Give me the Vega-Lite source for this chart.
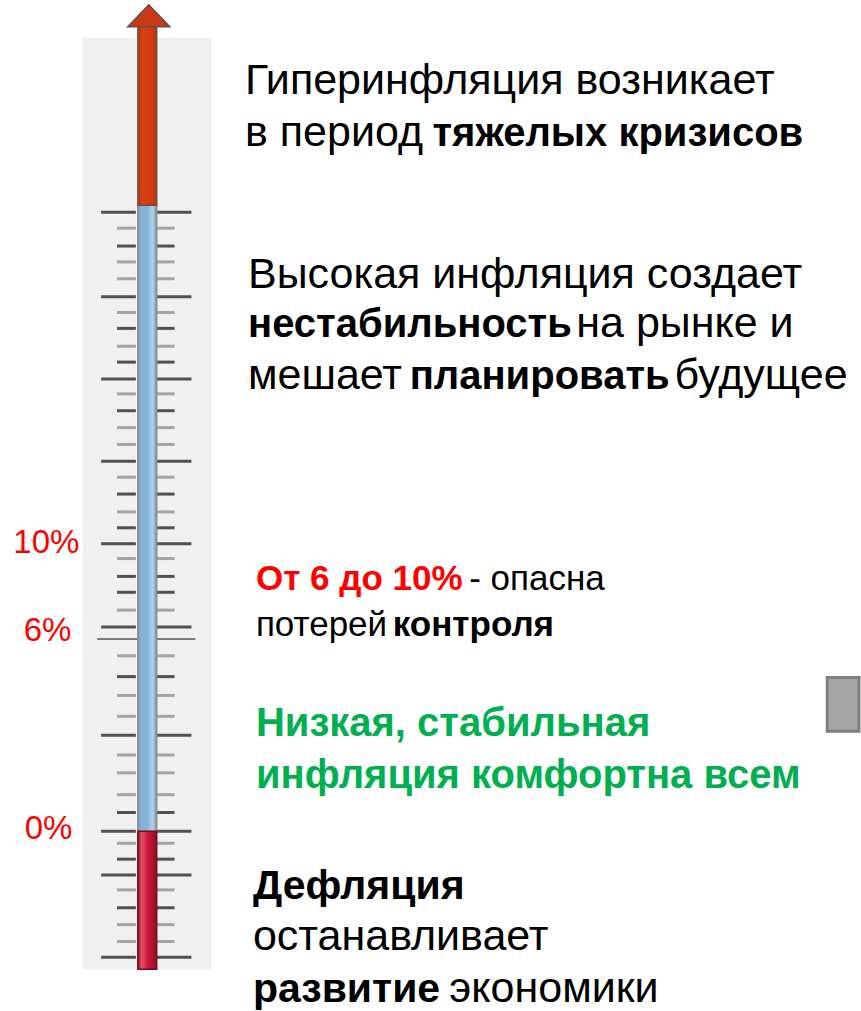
{
  "$schema": "https://vega.github.io/schema/vega-lite/v6.json",
  "width": 861,
  "height": 1011,
  "autosize": {"type": "fit", "contains": "padding"},
  "padding": 0,
  "background": "white",
  "config": {"view": {"stroke": null}},
  "resolve": {"scale": {"color": "independent", "size": "independent"}},
  "datasets": {
    "ticks": [
      {"pos": 214, "kind": "major", "shade": "d"},
      {"pos": 230, "kind": "minor", "shade": "l"},
      {"pos": 248, "kind": "minor", "shade": "d"},
      {"pos": 264, "kind": "minor", "shade": "l"},
      {"pos": 281, "kind": "minor", "shade": "l"},
      {"pos": 299, "kind": "major", "shade": "d"},
      {"pos": 315, "kind": "minor", "shade": "l"},
      {"pos": 331, "kind": "minor", "shade": "d"},
      {"pos": 349, "kind": "minor", "shade": "l"},
      {"pos": 365, "kind": "minor", "shade": "d"},
      {"pos": 382, "kind": "major", "shade": "d"},
      {"pos": 397, "kind": "minor", "shade": "l"},
      {"pos": 414, "kind": "minor", "shade": "d"},
      {"pos": 431, "kind": "minor", "shade": "l"},
      {"pos": 448, "kind": "minor", "shade": "l"},
      {"pos": 465, "kind": "major", "shade": "d"},
      {"pos": 481, "kind": "minor", "shade": "l"},
      {"pos": 498, "kind": "minor", "shade": "d"},
      {"pos": 516, "kind": "minor", "shade": "l"},
      {"pos": 532, "kind": "minor", "shade": "d"},
      {"pos": 548, "kind": "major", "shade": "d"},
      {"pos": 563, "kind": "minor", "shade": "l"},
      {"pos": 581, "kind": "minor", "shade": "d"},
      {"pos": 597, "kind": "minor", "shade": "d"},
      {"pos": 615, "kind": "minor", "shade": "l"},
      {"pos": 632, "kind": "major", "shade": "d"},
      {"pos": 644, "kind": "long", "shade": "l"},
      {"pos": 661, "kind": "minor", "shade": "l"},
      {"pos": 682, "kind": "minor", "shade": "d"},
      {"pos": 701, "kind": "minor", "shade": "l"},
      {"pos": 722, "kind": "minor", "shade": "l"},
      {"pos": 741, "kind": "major", "shade": "d"},
      {"pos": 761, "kind": "minor", "shade": "l"},
      {"pos": 779, "kind": "minor", "shade": "l"},
      {"pos": 801, "kind": "minor", "shade": "l"},
      {"pos": 819, "kind": "minor", "shade": "d"},
      {"pos": 838, "kind": "major", "shade": "d"},
      {"pos": 850, "kind": "minor", "shade": "l"},
      {"pos": 866, "kind": "minor", "shade": "d"},
      {"pos": 882, "kind": "major", "shade": "d"},
      {"pos": 897, "kind": "minor", "shade": "l"},
      {"pos": 915, "kind": "minor", "shade": "d"},
      {"pos": 932, "kind": "minor", "shade": "l"},
      {"pos": 949, "kind": "minor", "shade": "l"},
      {"pos": 965, "kind": "major", "shade": "d"}
    ],
    "pct": [
      {"x": 80, "pos": 557, "label": "10%"},
      {"x": 72, "pos": 646, "label": "6%"},
      {"x": 73, "pos": 846, "label": "0%"}
    ],
    "txt": [
      {"block": "1", "x": 247, "pos": 95, "t": "Гиперинфляция возникает", "emph": "no", "tone": "black"},
      {"block": "1", "x": 247, "pos": 147, "t": "в период", "emph": "no", "tone": "black"},
      {"block": "1", "x": 436, "pos": 147, "t": "тяжелых кризисов", "emph": "yes", "tone": "black"},
      {"block": "2", "x": 250, "pos": 290, "t": "Высокая инфляция создает", "emph": "no", "tone": "black"},
      {"block": "2", "x": 250, "pos": 340, "t": "нестабильность", "emph": "yes", "tone": "black"},
      {"block": "2", "x": 581, "pos": 340, "t": "на рынке и", "emph": "no", "tone": "black"},
      {"block": "2", "x": 250, "pos": 392, "t": "мешает", "emph": "no", "tone": "black"},
      {"block": "2", "x": 413, "pos": 392, "t": "планировать", "emph": "yes", "tone": "black"},
      {"block": "2", "x": 680, "pos": 392, "t": "будущее", "emph": "no", "tone": "black"},
      {"block": "3", "x": 258, "pos": 595, "t": "От 6 до 10%", "emph": "yes", "tone": "red"},
      {"block": "3", "x": 473, "pos": 595, "t": "- опасна", "emph": "no", "tone": "black"},
      {"block": "3", "x": 258, "pos": 641, "t": "потерей", "emph": "no", "tone": "black"},
      {"block": "3", "x": 396, "pos": 641, "t": "контроля", "emph": "yes", "tone": "black"},
      {"block": "4", "x": 258, "pos": 742, "t": "Низкая, стабильная", "emph": "yes", "tone": "green"},
      {"block": "4", "x": 258, "pos": 794, "t": "инфляция комфортна всем", "emph": "yes", "tone": "green"},
      {"block": "5", "x": 255, "pos": 906, "t": "Дефляция", "emph": "yes", "tone": "black"},
      {"block": "5", "x": 255, "pos": 958, "t": "останавливает", "emph": "no", "tone": "black"},
      {"block": "5", "x": 255, "pos": 1010, "t": "развитие", "emph": "yes", "tone": "black"},
      {"block": "5", "x": 453, "pos": 1010, "t": "экономики", "emph": "no", "tone": "black"}
    ]
  },
  "layer": [
    {
      "data": {"values": [{"part": "panel"}]},
      "mark": {"type": "rect", "color": "#f0f0f0"},
      "encoding": {
        "x": {"datum": 83, "type": "quantitative", "scale": {"domain": [0, 861], "nice": false, "zero": false}, "axis": null},
        "x2": {"datum": 213},
        "y": {"datum": 38, "type": "quantitative", "scale": {"domain": [0, 1011], "nice": false, "zero": false, "reverse": true}, "axis": null},
        "y2": {"datum": 977}
      }
    },
    {
      "data": {"name": "ticks"},
      "transform": [{"filter": "datum.kind === 'major'"}],
      "mark": {"type": "rule", "strokeWidth": 3},
      "encoding": {
        "x": {"datum": 102, "type": "quantitative", "scale": {"domain": [0, 861], "nice": false, "zero": false}, "axis": null},
        "x2": {"datum": 137},
        "y": {"field": "pos", "type": "quantitative", "scale": {"domain": [0, 1011], "nice": false, "zero": false, "reverse": true}, "axis": null},
        "color": {"field": "shade", "type": "nominal", "scale": {"domain": ["d", "l"], "range": ["#505050", "#a3a3a3"]}, "legend": null}
      }
    },
    {
      "data": {"name": "ticks"},
      "transform": [{"filter": "datum.kind === 'major'"}],
      "mark": {"type": "rule", "strokeWidth": 3},
      "encoding": {
        "x": {"datum": 157, "type": "quantitative", "scale": {"domain": [0, 861], "nice": false, "zero": false}, "axis": null},
        "x2": {"datum": 193},
        "y": {"field": "pos", "type": "quantitative", "scale": {"domain": [0, 1011], "nice": false, "zero": false, "reverse": true}, "axis": null},
        "color": {"field": "shade", "type": "nominal", "scale": {"domain": ["d", "l"], "range": ["#505050", "#a3a3a3"]}, "legend": null}
      }
    },
    {
      "data": {"name": "ticks"},
      "transform": [{"filter": "datum.kind === 'minor'"}],
      "mark": {"type": "rule", "strokeWidth": 3},
      "encoding": {
        "x": {"datum": 118, "type": "quantitative", "scale": {"domain": [0, 861], "nice": false, "zero": false}, "axis": null},
        "x2": {"datum": 137},
        "y": {"field": "pos", "type": "quantitative", "scale": {"domain": [0, 1011], "nice": false, "zero": false, "reverse": true}, "axis": null},
        "color": {"field": "shade", "type": "nominal", "scale": {"domain": ["d", "l"], "range": ["#505050", "#a3a3a3"]}, "legend": null}
      }
    },
    {
      "data": {"name": "ticks"},
      "transform": [{"filter": "datum.kind === 'minor'"}],
      "mark": {"type": "rule", "strokeWidth": 3},
      "encoding": {
        "x": {"datum": 157, "type": "quantitative", "scale": {"domain": [0, 861], "nice": false, "zero": false}, "axis": null},
        "x2": {"datum": 176},
        "y": {"field": "pos", "type": "quantitative", "scale": {"domain": [0, 1011], "nice": false, "zero": false, "reverse": true}, "axis": null},
        "color": {"field": "shade", "type": "nominal", "scale": {"domain": ["d", "l"], "range": ["#505050", "#a3a3a3"]}, "legend": null}
      }
    },
    {
      "data": {"name": "ticks"},
      "transform": [{"filter": "datum.kind === 'long'"}],
      "mark": {"type": "rule", "strokeWidth": 2, "color": "#7a7a7a"},
      "encoding": {
        "x": {"datum": 98, "type": "quantitative", "scale": {"domain": [0, 861], "nice": false, "zero": false}, "axis": null},
        "x2": {"datum": 197},
        "y": {"field": "pos", "type": "quantitative", "scale": {"domain": [0, 1011], "nice": false, "zero": false, "reverse": true}, "axis": null}
      }
    },
    {
      "data": {"values": [{"part": "tube"}]},
      "mark": {"type": "rect", "stroke": "#8a8f96", "strokeWidth": 1.5,
        "fill": {"gradient": "linear", "x1": 0, "x2": 1, "y1": 0, "y2": 0,
          "stops": [{"offset": 0, "color": "#6f7a86"}, {"offset": 0.12, "color": "#86b2d6"}, {"offset": 0.5, "color": "#83b3da"}, {"offset": 0.8, "color": "#b6d2e8"}, {"offset": 1, "color": "#7c8791"}]}},
      "encoding": {
        "x": {"datum": 139, "type": "quantitative", "scale": {"domain": [0, 861], "nice": false, "zero": false}, "axis": null},
        "x2": {"datum": 158},
        "y": {"datum": 207, "type": "quantitative", "scale": {"domain": [0, 1011], "nice": false, "zero": false, "reverse": true}, "axis": null},
        "y2": {"datum": 838}
      }
    },
    {
      "data": {"values": [{"part": "cold"}]},
      "mark": {"type": "rect", "stroke": "#6e1020", "strokeWidth": 1.5,
        "fill": {"gradient": "linear", "x1": 0, "x2": 1, "y1": 0, "y2": 0,
          "stops": [{"offset": 0, "color": "#8c0f22"}, {"offset": 0.2, "color": "#e8506a"}, {"offset": 0.55, "color": "#d0163a"}, {"offset": 1, "color": "#8c0f22"}]}},
      "encoding": {
        "x": {"datum": 139, "type": "quantitative", "scale": {"domain": [0, 861], "nice": false, "zero": false}, "axis": null},
        "x2": {"datum": 158},
        "y": {"datum": 838, "type": "quantitative", "scale": {"domain": [0, 1011], "nice": false, "zero": false, "reverse": true}, "axis": null},
        "y2": {"datum": 977}
      }
    },
    {
      "data": {"values": [{"part": "shaft"}]},
      "mark": {"type": "rect", "stroke": "#7a4a44", "strokeWidth": 1.5,
        "fill": {"gradient": "linear", "x1": 0, "x2": 1, "y1": 0, "y2": 0,
          "stops": [{"offset": 0, "color": "#a8351a"}, {"offset": 0.25, "color": "#d8400f"}, {"offset": 0.75, "color": "#d23a10"}, {"offset": 1, "color": "#a8351a"}]}},
      "encoding": {
        "x": {"datum": 139, "type": "quantitative", "scale": {"domain": [0, 861], "nice": false, "zero": false}, "axis": null},
        "x2": {"datum": 158},
        "y": {"datum": 24, "type": "quantitative", "scale": {"domain": [0, 1011], "nice": false, "zero": false, "reverse": true}, "axis": null},
        "y2": {"datum": 207}
      }
    },
    {
      "data": {"values": [{"part": "head"}]},
      "mark": {"type": "point", "filled": true, "shape": "M-1,0.5L0,-0.55L1,0.5Z", "size": 1764, "color": "#c83a16", "stroke": "#6b4a4a", "strokeWidth": 1.5, "opacity": 1},
      "encoding": {
        "x": {"datum": 150, "type": "quantitative", "scale": {"domain": [0, 861], "nice": false, "zero": false}, "axis": null},
        "y": {"datum": 16.5, "type": "quantitative", "scale": {"domain": [0, 1011], "nice": false, "zero": false, "reverse": true}, "axis": null}
      }
    },
    {
      "data": {"values": [{"part": "box"}]},
      "mark": {"type": "rect", "fill": "#a6a6a6", "stroke": "#7f7f7f", "strokeWidth": 3},
      "encoding": {
        "x": {"datum": 834, "type": "quantitative", "scale": {"domain": [0, 861], "nice": false, "zero": false}, "axis": null},
        "x2": {"datum": 866},
        "y": {"datum": 683, "type": "quantitative", "scale": {"domain": [0, 1011], "nice": false, "zero": false, "reverse": true}, "axis": null},
        "y2": {"datum": 737}
      }
    },
    {
      "data": {"name": "pct"},
      "mark": {"type": "text", "align": "right", "baseline": "alphabetic", "font": "Liberation Sans", "fontSize": 33, "color": "#ff0000"},
      "encoding": {
        "x": {"field": "x", "type": "quantitative", "scale": {"domain": [0, 861], "nice": false, "zero": false}, "axis": null},
        "y": {"field": "pos", "type": "quantitative", "scale": {"domain": [0, 1011], "nice": false, "zero": false, "reverse": true}, "axis": null},
        "text": {"field": "label"}
      }
    },
    {
      "data": {"name": "txt"},
      "transform": [{"filter": "datum.emph === 'no'"}],
      "mark": {"type": "text", "align": "left", "baseline": "alphabetic", "font": "Liberation Sans", "fontWeight": "normal"},
      "encoding": {
        "x": {"field": "x", "type": "quantitative", "scale": {"domain": [0, 861], "nice": false, "zero": false}, "axis": null},
        "y": {"field": "pos", "type": "quantitative", "scale": {"domain": [0, 1011], "nice": false, "zero": false, "reverse": true}, "axis": null},
        "text": {"field": "t"},
        "size": {"field": "block", "type": "ordinal", "scale": {"type": "ordinal", "domain": ["1", "2", "3", "4", "5"], "range": [43, 43, 35, 40, 43]}, "legend": null},
        "color": {"field": "tone", "type": "nominal", "scale": {"domain": ["black", "red", "green"], "range": ["#000000", "#ff0000", "#00b050"]}, "legend": null}
      }
    },
    {
      "data": {"name": "txt"},
      "transform": [{"filter": "datum.emph === 'yes'"}],
      "mark": {"type": "text", "align": "left", "baseline": "alphabetic", "font": "Liberation Sans", "fontWeight": "bold"},
      "encoding": {
        "x": {"field": "x", "type": "quantitative", "scale": {"domain": [0, 861], "nice": false, "zero": false}, "axis": null},
        "y": {"field": "pos", "type": "quantitative", "scale": {"domain": [0, 1011], "nice": false, "zero": false, "reverse": true}, "axis": null},
        "text": {"field": "t"},
        "size": {"field": "block", "type": "ordinal", "scale": {"type": "ordinal", "domain": ["1", "2", "3", "4", "5"], "range": [40, 40, 35, 40, 41]}, "legend": null},
        "color": {"field": "tone", "type": "nominal", "scale": {"domain": ["black", "red", "green"], "range": ["#000000", "#ff0000", "#00b050"]}, "legend": null}
      }
    }
  ]
}
